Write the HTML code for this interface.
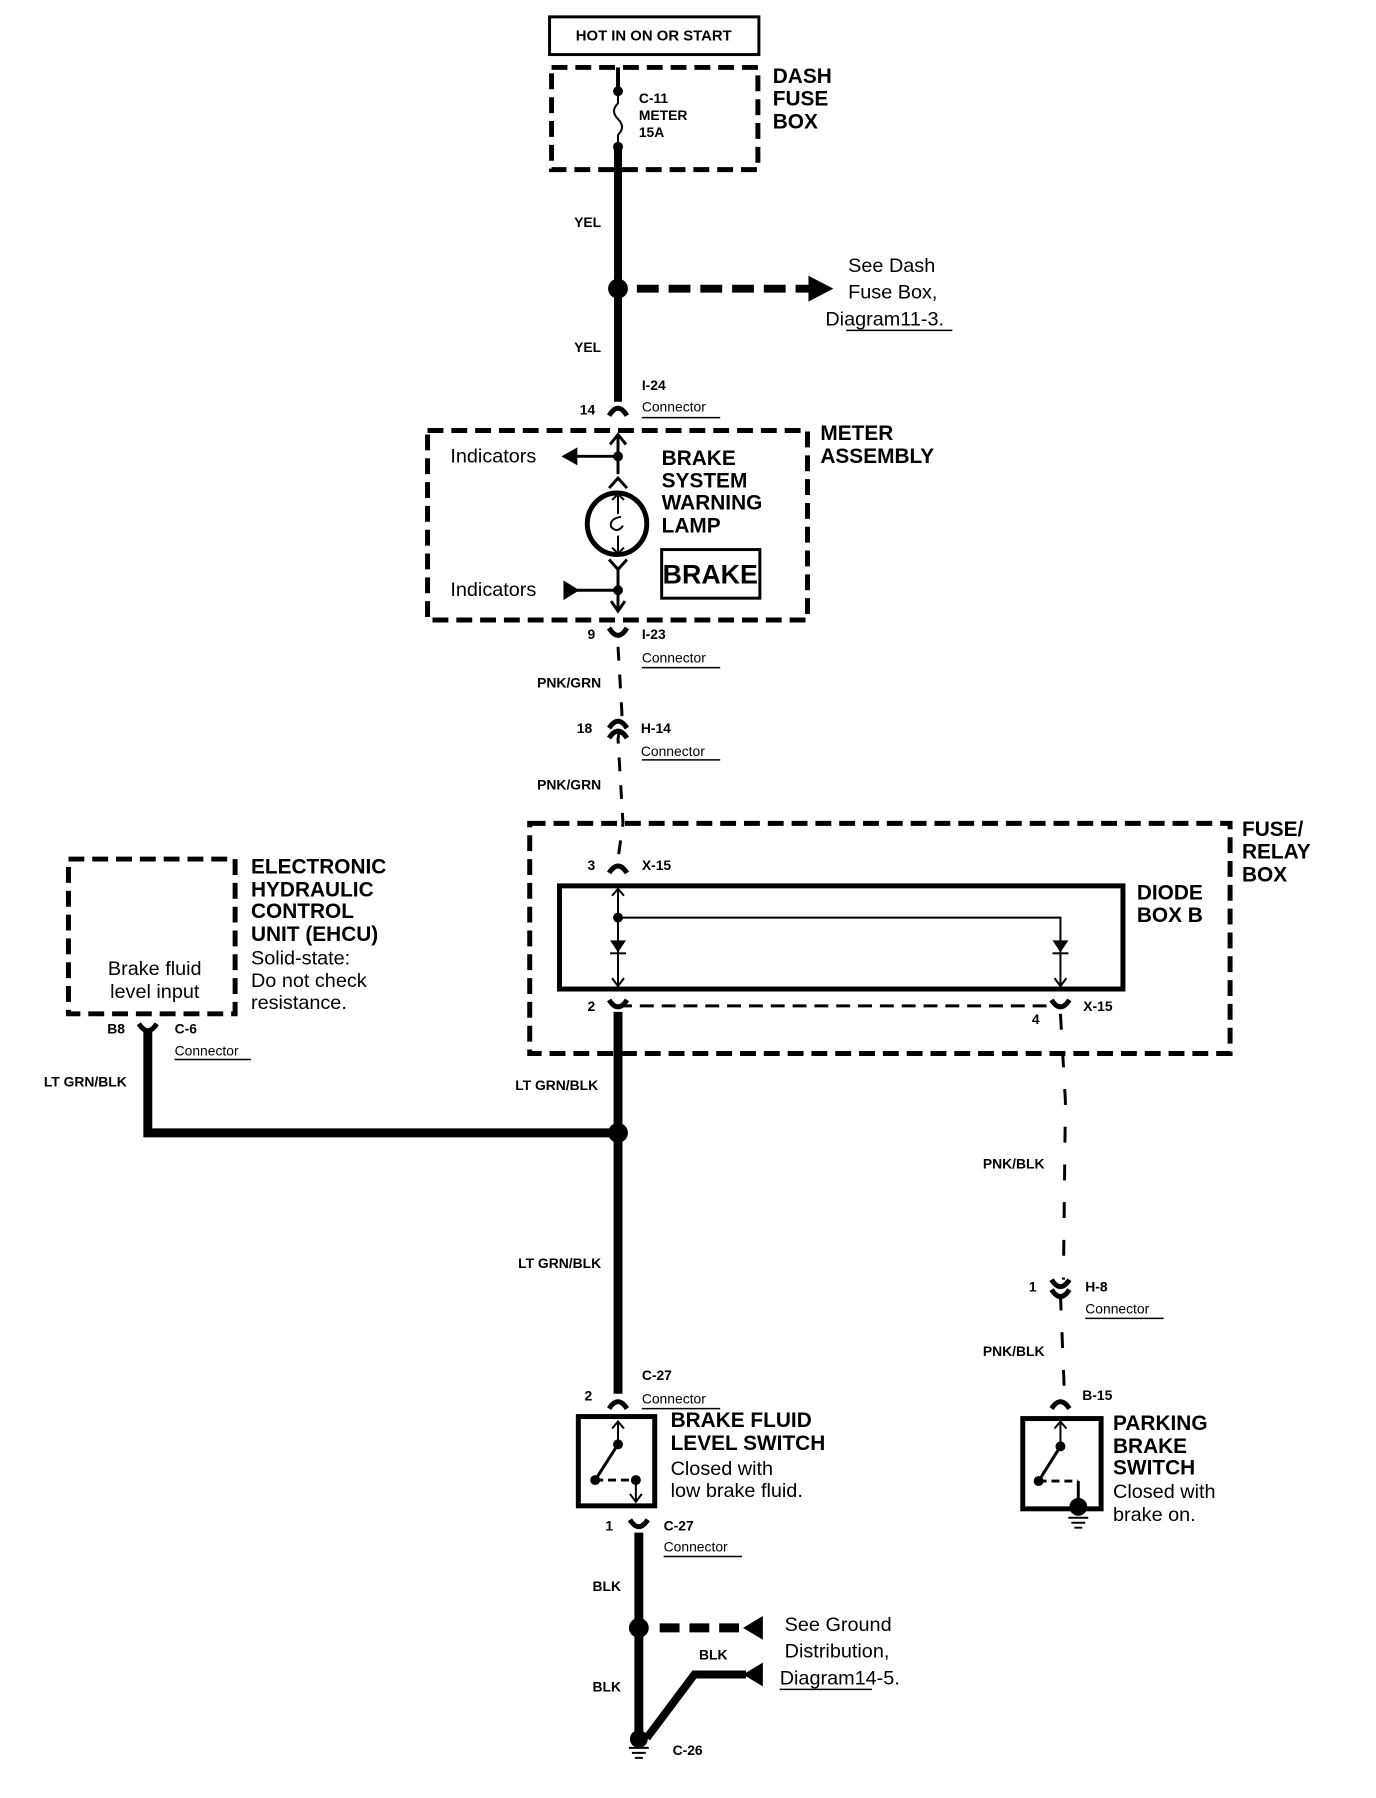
<!DOCTYPE html>
<html><head><meta charset="utf-8"><style>
html,body{margin:0;padding:0;background:#fff;}
svg{display:block;}
text{font-family:"Liberation Sans",sans-serif;fill:#000;dominant-baseline:central;}
.h{font-weight:bold;font-size:21px;}
.r{font-size:20px;}
.s{font-weight:bold;font-size:14px;}
.c{font-size:14px;}
</style></head><body>
<svg width="1376" height="1798" viewBox="0 0 1376 1798" xmlns="http://www.w3.org/2000/svg">
<g transform="scale(0.992)">
<g fill="none" stroke="#000">
<rect x="554" y="17" width="211" height="38" stroke-width="3"/>
<g stroke-width="5" stroke-dasharray="16 8">
<rect x="556" y="68" width="208" height="103"/>
<rect x="431" y="434" width="383" height="191"/>
<rect x="534" y="830" width="706" height="232"/>
<rect x="69" y="866" width="168" height="156"/>
</g>
<line x1="623" y1="68" x2="623" y2="92" stroke-width="4"/>
<path d="M623 92 L623 104 Q615 112 623 120 Q631 128 623 136 L623 148" stroke-width="2"/>
<line x1="623" y1="148" x2="623" y2="405" stroke-width="8"/>
<line x1="642" y1="291" x2="818" y2="291" stroke-width="8" stroke-dasharray="22 10"/>
<path d="M614 419 Q623 404 632 419" stroke-width="5"/>
<line x1="623" y1="440" x2="623" y2="478" stroke-width="3"/>
<path d="M615 448 L623 438 L631 448" stroke-width="3"/>
<line x1="581" y1="460" x2="623" y2="460" stroke-width="3"/>
<path d="M614 492 L623 482 L632 492" stroke-width="3"/>
<ellipse cx="622" cy="528" rx="30" ry="31" stroke-width="5"/>
<path d="M623 500 L623 518 M623 540 L623 556" stroke-width="2"/>
<path d="M617 504 L623 498 L629 504 M617 552 L623 558 L629 552" stroke-width="2"/>
<path d="M626 521 Q614 523 616 531 Q622 538 628 530" stroke-width="2"/>
<path d="M614 564 L623 574 L632 564" stroke-width="3"/>
<line x1="623" y1="574" x2="623" y2="616" stroke-width="3"/>
<line x1="580" y1="595" x2="623" y2="595" stroke-width="3"/>
<path d="M616 606 L623 616 L630 606" stroke-width="3"/>
<rect x="667" y="554" width="99" height="49" stroke-width="3"/>
<path d="M614 633 Q623 648 632 633" stroke-width="5"/>
<path d="M623 652 L627 720 L623 745 L628 830 L623 866" stroke-width="3" stroke-dasharray="14 14"/>
<path d="M614 734 Q623 720 632 734 M614 744 Q623 730 632 744" stroke-width="5"/>
<path d="M614 880 Q623 866 632 880" stroke-width="5"/>
<rect x="564" y="893" width="568" height="104" stroke-width="5"/>
<line x1="623" y1="895" x2="623" y2="995" stroke-width="2"/>
<path d="M617 903 L623 896 L629 903 M617 986 L623 994 L629 986" stroke-width="2"/>
<path d="M623 925 L1069 925 L1069 995" stroke-width="2"/>
<path d="M1063 986 L1069 994 L1075 986" stroke-width="2"/>
<line x1="623" y1="1014" x2="1069" y2="1014" stroke-width="3" stroke-dasharray="14 8"/>
<path d="M614 1008 Q623 1022 632 1008" stroke-width="5"/>
<path d="M1060 1008 Q1069 1022 1078 1008" stroke-width="5"/>
<line x1="623" y1="1020" x2="623" y2="1405" stroke-width="9"/>
<path d="M149 1040 L149 1142 L623 1142" stroke-width="9"/>
<path d="M140 1032 Q149 1046 158 1032" stroke-width="5"/>
<path d="M1069 1022 L1074 1110 L1072 1290 M1069 1305 L1073 1405" stroke-width="3" stroke-dasharray="16 22"/>
<path d="M1060 1290 Q1069 1304 1078 1290 M1060 1300 Q1069 1314 1078 1300" stroke-width="5"/>
<path d="M1060 1420 Q1069 1406 1078 1420" stroke-width="5"/>
<path d="M614 1420 Q623 1406 632 1420" stroke-width="5"/>
<rect x="583" y="1428" width="77" height="90" stroke-width="5"/>
<line x1="623" y1="1432" x2="623" y2="1456" stroke-width="2"/>
<path d="M617 1440 L623 1433 L629 1440" stroke-width="2"/>
<line x1="623" y1="1456" x2="600" y2="1492" stroke-width="3"/>
<line x1="600" y1="1492" x2="641" y2="1492" stroke-width="3" stroke-dasharray="8 5"/>
<line x1="641" y1="1492" x2="641" y2="1514" stroke-width="2"/>
<path d="M635 1506 L641 1514 L647 1506" stroke-width="2"/>
<path d="M635 1532 Q644 1546 653 1532" stroke-width="5"/>
<line x1="644" y1="1545" x2="644" y2="1752" stroke-width="9"/>
<line x1="665" y1="1641" x2="752" y2="1641" stroke-width="9" stroke-dasharray="20 10"/>
<path d="M752 1688 L700 1688 L652 1752" stroke-width="8"/>
<rect x="1031" y="1430" width="79" height="91" stroke-width="5"/>
<line x1="1069" y1="1432" x2="1069" y2="1458" stroke-width="2"/>
<path d="M1063 1440 L1069 1433 L1075 1440" stroke-width="2"/>
<line x1="1069" y1="1458" x2="1047" y2="1493" stroke-width="3"/>
<line x1="1047" y1="1493" x2="1087" y2="1493" stroke-width="3" stroke-dasharray="8 5"/>
<line x1="1087" y1="1493" x2="1087" y2="1515" stroke-width="3"/>
<path d="M1077 1530 L1097 1530 M1080 1535 L1094 1535 M1083 1540 L1091 1540" stroke-width="2"/>
<path d="M634 1762 L654 1762 M637 1767 L651 1767 M640 1772 L648 1772" stroke-width="2"/>
</g>
<g fill="#000">
<circle cx="623" cy="92" r="5"/><circle cx="623" cy="148" r="5"/>
<circle cx="623" cy="291" r="10"/>
<polygon points="815,278 840,291 815,304"/>
<polygon points="566,460 582,451 582,469"/>
<circle cx="623" cy="460" r="5"/>
<polygon points="568,585 584,595 568,605"/>
<circle cx="623" cy="595" r="5"/>
<circle cx="623" cy="925" r="5"/>
<polygon points="615,948 631,948 623,960"/><rect x="615" y="960" width="16" height="2"/>
<polygon points="1061,948 1077,948 1069,960"/><rect x="1061" y="960" width="16" height="2"/>
<circle cx="623" cy="1142" r="10"/>
<circle cx="623" cy="1456" r="5"/><circle cx="600" cy="1492" r="5"/><circle cx="641" cy="1492" r="5"/>
<circle cx="1069" cy="1458" r="5"/><circle cx="1047" cy="1493" r="5"/>
<circle cx="1087" cy="1519" r="9"/>
<circle cx="644" cy="1641" r="10"/>
<polygon points="749,1641 769,1629 769,1653"/>
<polygon points="749,1688 769,1676 769,1700"/>
<circle cx="644" cy="1753" r="9"/>
</g>
<g fill="none" stroke="#000" stroke-width="1.5">
<line x1="853" y1="333" x2="960" y2="333"/>
<line x1="647" y1="421" x2="726" y2="421"/>
<line x1="647" y1="673" x2="726" y2="673"/>
<line x1="647" y1="766" x2="726" y2="766"/>
<line x1="176" y1="1068" x2="253" y2="1068"/>
<line x1="1094" y1="1329" x2="1173" y2="1329"/>
<line x1="647" y1="1420" x2="726" y2="1420"/>
<line x1="669" y1="1569" x2="748" y2="1569"/>
<line x1="786" y1="1703" x2="879" y2="1703"/>
</g>
<text x="659" y="37" class="s" text-anchor="middle" style="font-size:15px">HOT IN ON OR START</text>
<text x="779" y="77" class="h">DASH</text><text x="779" y="100" class="h">FUSE</text><text x="779" y="123" class="h">BOX</text>
<text x="644" y="99" class="s">C-11</text><text x="644" y="116" class="s">METER</text><text x="644" y="133" class="s">15A</text>
<text x="606" y="224" class="s" text-anchor="end">YEL</text>
<text x="855" y="268" class="r">See Dash</text><text x="855" y="295" class="r">Fuse Box,</text><text x="832" y="322" class="r">Diagram11-3.</text>
<text x="606" y="350" class="s" text-anchor="end">YEL</text>
<text x="647" y="388" class="s">I-24</text><text x="647" y="410" class="c">Connector</text>
<text x="600" y="413" class="s" text-anchor="end">14</text>
<text x="827" y="437" class="h">METER</text><text x="827" y="460" class="h">ASSEMBLY</text>
<text x="454" y="460" class="r">Indicators</text>
<text x="667" y="462" class="h">BRAKE</text><text x="667" y="485" class="h">SYSTEM</text><text x="667" y="507" class="h">WARNING</text><text x="667" y="530" class="h">LAMP</text>
<text x="716" y="579" class="h" text-anchor="middle" style="font-size:27px">BRAKE</text>
<text x="454" y="595" class="r">Indicators</text>
<text x="600" y="639" class="s" text-anchor="end">9</text>
<text x="647" y="639" class="s">I-23</text><text x="647" y="663" class="c">Connector</text>
<text x="606" y="688" class="s" text-anchor="end">PNK/GRN</text>
<text x="597" y="734" class="s" text-anchor="end">18</text>
<text x="646" y="734" class="s">H-14</text><text x="646" y="757" class="c">Connector</text>
<text x="606" y="791" class="s" text-anchor="end">PNK/GRN</text>
<text x="1252" y="836" class="h">FUSE/</text><text x="1252" y="859" class="h">RELAY</text><text x="1252" y="882" class="h">BOX</text>
<text x="600" y="872" class="s" text-anchor="end">3</text><text x="647" y="872" class="s">X-15</text>
<text x="1146" y="900" class="h">DIODE</text><text x="1146" y="923" class="h">BOX B</text>
<text x="253" y="874" class="h">ELECTRONIC</text><text x="253" y="897" class="h">HYDRAULIC</text><text x="253" y="919" class="h">CONTROL</text><text x="253" y="942" class="h">UNIT (EHCU)</text>
<text x="253" y="966" class="r">Solid-state:</text><text x="253" y="989" class="r">Do not check</text><text x="253" y="1011" class="r">resistance.</text>
<text x="156" y="977" class="r" text-anchor="middle">Brake fluid</text><text x="156" y="1000" class="r" text-anchor="middle">level input</text>
<text x="600" y="1014" class="s" text-anchor="end">2</text>
<text x="1048" y="1027" class="s" text-anchor="end">4</text>
<text x="1092" y="1014" class="s">X-15</text>
<text x="126" y="1037" class="s" text-anchor="end">B8</text>
<text x="176" y="1037" class="s">C-6</text><text x="176" y="1059" class="c">Connector</text>
<text x="86" y="1090" class="s" text-anchor="middle">LT GRN/BLK</text>
<text x="603" y="1094" class="s" text-anchor="end">LT GRN/BLK</text>
<text x="606" y="1273" class="s" text-anchor="end">LT GRN/BLK</text>
<text x="1053" y="1173" class="s" text-anchor="end">PNK/BLK</text>
<text x="1045" y="1297" class="s" text-anchor="end">1</text>
<text x="1094" y="1297" class="s">H-8</text><text x="1094" y="1319" class="c">Connector</text>
<text x="1053" y="1362" class="s" text-anchor="end">PNK/BLK</text>
<text x="1091" y="1406" class="s">B-15</text>
<text x="1122" y="1435" class="h">PARKING</text><text x="1122" y="1458" class="h">BRAKE</text><text x="1122" y="1480" class="h">SWITCH</text>
<text x="1122" y="1504" class="r">Closed with</text><text x="1122" y="1527" class="r">brake on.</text>
<text x="647" y="1386" class="s">C-27</text><text x="647" y="1410" class="c">Connector</text>
<text x="597" y="1407" class="s" text-anchor="end">2</text>
<text x="676" y="1432" class="h">BRAKE FLUID</text><text x="676" y="1455" class="h">LEVEL SWITCH</text>
<text x="676" y="1481" class="r">Closed with</text><text x="676" y="1503" class="r">low brake fluid.</text>
<text x="618" y="1538" class="s" text-anchor="end">1</text>
<text x="669" y="1538" class="s">C-27</text><text x="669" y="1559" class="c">Connector</text>
<text x="626" y="1599" class="s" text-anchor="end">BLK</text>
<text x="791" y="1638" class="r">See Ground</text><text x="791" y="1665" class="r">Distribution,</text><text x="786" y="1692" class="r">Diagram14-5.</text>
<text x="719" y="1668" class="s" text-anchor="middle">BLK</text>
<text x="626" y="1700" class="s" text-anchor="end">BLK</text>
<text x="678" y="1764" class="s">C-26</text>
</g>
</svg>
</body></html>
